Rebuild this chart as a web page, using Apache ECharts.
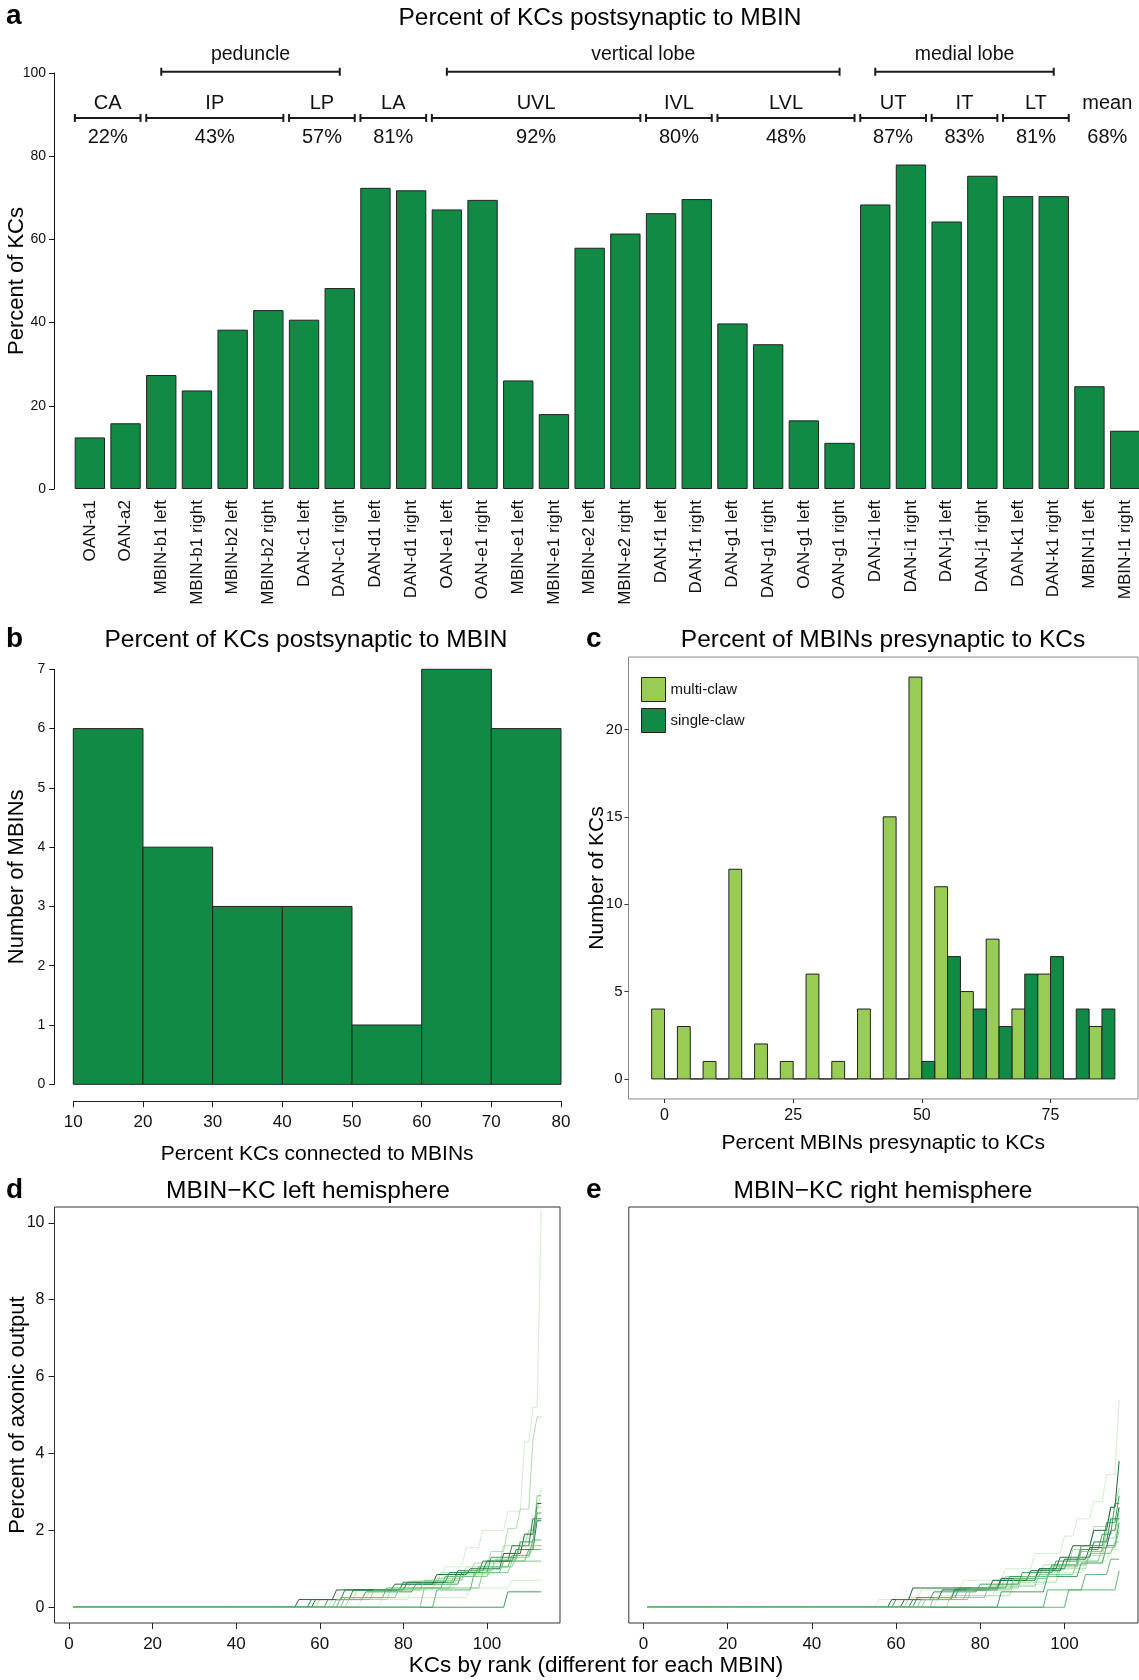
<!DOCTYPE html>
<html><head><meta charset="utf-8">
<script src="https://cdn.jsdelivr.net/npm/echarts@6/dist/echarts.min.js"></script>
<style>html,body{margin:0;padding:0;background:#fff;overflow:hidden}#c{width:1139px;height:1680px}</style>
</head><body><div id="c"></div>
<script>
const FONT = "'Liberation Sans', Arial, Helvetica, sans-serif";
const GREEN = '#118a45';
const LIGHT = '#99cc55';
const INK = '#111';

// ---------- panel a ----------
const mbinNames = ['OAN-a1','OAN-a2','MBIN-b1 left','MBIN-b1 right','MBIN-b2 left','MBIN-b2 right','DAN-c1 left','DAN-c1 right','DAN-d1 left','DAN-d1 right','OAN-e1 left','OAN-e1 right','MBIN-e1 left','MBIN-e1 right','MBIN-e2 left','MBIN-e2 right','DAN-f1 left','DAN-f1 right','DAN-g1 left','DAN-g1 right','OAN-g1 left','OAN-g1 right','DAN-i1 left','DAN-i1 right','DAN-j1 left','DAN-j1 right','DAN-k1 left','DAN-k1 right','MBIN-l1 left','MBIN-l1 right'];
const kcPercent = [12.4,15.8,27.4,23.7,38.3,43.0,40.7,48.3,72.4,71.8,67.2,69.5,26.1,18.0,58.0,61.4,66.3,69.7,39.8,34.8,16.5,11.1,68.4,78.0,64.3,75.3,70.4,70.4,24.7,14.0];
const regionNames = ['CA','IP','LP','LA','UVL','IVL','LVL','UT','IT','LT'];
const regionPct = ['22%','43%','57%','81%','92%','80%','48%','87%','83%','81%'];
const regionFirst = [0,2,6,8,10,16,18,22,24,26];
const regionLast = [1,5,7,9,15,17,21,23,25,27];
const lobeNames = ['peduncle','vertical lobe','medial lobe'];
const lobeFirst = [2,10,22];
const lobeLast = [7,21,27];
const meanText = ['mean','68%'];
const meanSpan = [28,29];

// ---------- panel b ----------
const histStart = [10,20,30,40,50,60,70];
const histEnd = [20,30,40,50,60,70,80];
const histCount = [6,4,3,3,1,7,6];

// ---------- panel c ----------
const clawBinCenter = [0,5,10,15,20,25,30,35,40,45,50,55,60,65,70,75,80,85];
const multiClaw = [4,3,1,12,2,1,6,1,4,15,23,11,5,8,4,6,0,3];
const singleClaw = [0,0,0,0,0,0,0,0,0,0,1,7,4,3,6,7,4,4];
const CLAW_HALF = 2.5;

// ---------- panels d / e : runs of [first rank, percent] ----------
const RANKS = 113;
const shadePalette = ['#0a5228','#137a3a','#2a9449','#4caf5f','#78c47f','#a6d9a2','#cdebc8'];
const leftRuns = [
  [[1,0],[63,0.2],[72,0.45],[82,0.7],[90,1.05],[95,1.55],[99,2.0],[105,2.5],[109,4.3],[111,5.2],[113,10.35]],
  [[1,0],[70,0.2],[82,0.5],[93,0.85],[102,1.2],[108,1.8],[111,2.4],[113,3.1]],
  [[1,0],[75,0.25],[96,0.5],[106,0.7]],
  [[1,0],[67,0.2],[77,0.45],[88,0.75],[95,1.05],[101,1.45],[105,2.05],[108,2.55],[111,4.35],[112,4.95]],
  [[1,0],[60,0.2],[69,0.45],[80,0.6],[89,0.9],[97,1.15],[104,1.6],[110,2.0],[112,2.6]],
  [[1,0],[55,0.2],[64,0.45],[78,0.6],[88,0.85],[96,1.0],[104,1.4],[109,1.9],[112,2.7]],
  [[1,0],[58,0.2],[66,0.45],[80,0.65],[91,0.9],[99,1.2],[106,1.6],[111,2.3]],
  [[1,0],[62,0.2],[71,0.4],[83,0.6],[94,0.9],[101,1.3],[108,1.7],[112,2.45]],
  [[1,0],[65,0.25],[76,0.5],[90,0.8],[98,1.05],[106,1.35],[111,1.75]],
  [[1,0],[88,0.45],[97,0.9],[104,1.2],[110,1.5]],
  [[1,0],[105,0.4]],
  [[1,0],[59,0.2],[68,0.45],[81,0.65],[93,0.95],[100,1.2],[107,1.5],[112,2.25]],
  [[1,0],[66,0.25],[79,0.5],[92,0.8],[101,1.05],[107,1.3],[111,1.6]],
  [[1,0],[85,0.5],[99,0.9],[106,1.2]],
  [[1,0],[64,0.2],[73,0.45],[85,0.7],[95,0.95],[102,1.25],[108,1.6],[112,2.9]]
];
const leftShade = [6,6,6,5,5,0,1,2,3,3,2,1,4,4,4];
const rightRuns = [
  [[1,0],[56,0.2],[66,0.45],[76,0.7],[86,1.0],[93,1.4],[100,1.85],[103,2.3],[107,2.75],[110,3.45],[113,5.4]],
  [[1,0],[70,0.3],[84,0.6],[96,0.9],[105,1.2],[111,1.5]],
  [[1,0],[63,0.25],[74,0.5],[86,0.8],[95,1.1],[102,1.5],[107,2.1],[111,2.6],[113,3.1]],
  [[1,0],[73,0.3],[88,0.65],[99,1.0],[106,1.35],[110,1.8],[113,2.35]],
  [[1,0],[59,0.2],[64,0.5],[85,0.75],[94,1.0],[99,1.3],[102,1.6],[107,2.0],[111,2.6],[113,3.8]],
  [[1,0],[62,0.2],[71,0.45],[83,0.7],[92,0.95],[100,1.25],[106,1.55],[111,2.0],[113,2.6]],
  [[1,0],[64,0.2],[74,0.45],[85,0.7],[94,1.0],[101,1.3],[107,1.7],[111,2.3]],
  [[1,0],[60,0.2],[69,0.4],[80,0.6],[90,0.9],[98,1.2],[104,1.6],[110,2.2],[113,2.9]],
  [[1,0],[85,0.4],[96,0.8],[104,1.15],[110,1.6],[113,2.2]],
  [[1,0],[65,0.25],[75,0.5],[87,0.8],[97,1.1],[104,1.5],[109,1.9],[112,2.7]],
  [[1,0],[101,0.45],[113,0.95]],
  [[1,0],[96,0.45],[105,0.85],[111,1.25]],
  [[1,0],[67,0.2],[77,0.45],[88,0.75],[97,1.05],[104,1.45],[110,2.0],[113,2.5]],
  [[1,0],[66,0.2],[78,0.5],[90,0.8],[99,1.1],[106,1.4],[112,1.7]],
  [[1,0],[69,0.25],[82,0.55],[94,0.85],[103,1.2],[109,1.55],[113,2.0]]
];
const rightShade = [6,6,5,5,0,0,1,2,2,2,3,3,4,4,4];

function expandRuns(runs) {
  const pts = [];
  let k = 0;
  for (let r = 1; r <= RANKS; r++) {
    while (k + 1 < runs.length && runs[k + 1][0] <= r) k++;
    pts.push([r, runs[k][1]]);
  }
  return pts;
}

// y positions (in panel-a axis units) of the annotation rows above the bars
const ROW_LOBE_TEXT = 104.5, ROW_LOBE_LINE = 100.3, ROW_REGION_TEXT = 92.6, ROW_REGION_LINE = 89.2, ROW_PCT = 84.6;

function bracket(x0, x1, y, lw) {
  const st = {stroke: '#1a1a1a', lineWidth: lw};
  return [
    {type: 'line', shape: {x1: x0, y1: y, x2: x1, y2: y}, style: st},
    {type: 'line', shape: {x1: x0, y1: y - 4, x2: x0, y2: y + 4}, style: st},
    {type: 'line', shape: {x1: x1, y1: y - 4, x2: x1, y2: y + 4}, style: st}
  ];
}
function txt(s, x, y, size) {
  return {type: 'text', x: x, y: y, style: {text: s, fontSize: size, fontFamily: FONT, fill: INK, align: 'center', verticalAlign: 'middle'}};
}

function renderRegion(params, api) {
  const i = api.value(3);
  const band = api.size([1, 0])[0];
  const a = api.coord([api.value(0), ROW_REGION_LINE]);
  const b = api.coord([api.value(2), ROW_REGION_LINE]);
  const x0 = a[0] - band * 0.42, x1 = b[0] + band * 0.42;
  const cx = (x0 + x1) / 2;
  const yt = api.coord([api.value(0), ROW_REGION_TEXT])[1];
  const yp = api.coord([api.value(0), ROW_PCT])[1];
  return {type: 'group', children: bracket(x0, x1, a[1], 2).concat([
    txt(regionNames[i], cx, yt, 20), txt(regionPct[i], cx, yp, 20)])};
}
function renderLobe(params, api) {
  const i = api.value(3);
  const a = api.coord([api.value(0), ROW_LOBE_LINE]);
  const b = api.coord([api.value(2), ROW_LOBE_LINE]);
  const yt = api.coord([api.value(0), ROW_LOBE_TEXT])[1];
  return {type: 'group', children: bracket(a[0], b[0], a[1], 2).concat([
    txt(lobeNames[i], (a[0] + b[0]) / 2, yt, 19.5)])};
}
function renderMean(params, api) {
  const a = api.coord([api.value(0), ROW_REGION_TEXT]);
  const b = api.coord([api.value(2), ROW_PCT]);
  const cx = (a[0] + b[0]) / 2;
  return {type: 'group', children: [txt(meanText[0], cx, a[1], 20), txt(meanText[1], cx, b[1], 20)]};
}
function renderHist(params, api) {
  const p0 = api.coord([api.value(0), api.value(2)]);
  const p1 = api.coord([api.value(1), 0]);
  return {type: 'rect', shape: {x: p0[0], y: p0[1], width: p1[0] - p0[0], height: p1[1] - p0[1]},
    style: {fill: GREEN, stroke: '#222', lineWidth: 1}};
}
function clawRenderer(side, color) {
  return function (params, api) {
    const c = api.value(0);
    const x0 = side < 0 ? c - CLAW_HALF : c;
    const p0 = api.coord([x0, api.value(1)]);
    const p1 = api.coord([x0 + CLAW_HALF, 0]);
    return {type: 'rect', shape: {x: p0[0], y: p0[1], width: p1[0] - p0[0], height: p1[1] - p0[1]},
      style: {fill: color, stroke: '#222', lineWidth: 1}};
  };
}

const axisTxt = (size) => ({fontSize: size, color: INK, fontFamily: FONT});
const nameTxt = (size) => ({fontSize: size, color: '#000', fontFamily: FONT});

const series = [
  {type: 'bar', xAxisIndex: 0, yAxisIndex: 0, data: kcPercent, barCategoryGap: '15%',
   itemStyle: {color: GREEN, borderColor: '#222', borderWidth: 1}, silent: true},
  {type: 'custom', xAxisIndex: 0, yAxisIndex: 0, clip: false, silent: true, renderItem: renderRegion,
   data: regionNames.map((n, i) => [regionFirst[i], 0, regionLast[i], i])},
  {type: 'custom', xAxisIndex: 0, yAxisIndex: 0, clip: false, silent: true, renderItem: renderLobe,
   data: lobeNames.map((n, i) => [lobeFirst[i], 0, lobeLast[i], i])},
  {type: 'custom', xAxisIndex: 0, yAxisIndex: 0, clip: false, silent: true, renderItem: renderMean,
   data: [[meanSpan[0], 0, meanSpan[1]]]},
  {type: 'custom', xAxisIndex: 1, yAxisIndex: 1, silent: true, renderItem: renderHist, encode: {x: [0, 1], y: 2},
   data: histCount.map((c, i) => [histStart[i], histEnd[i], c])},
  {name: 'multi-claw', type: 'custom', xAxisIndex: 2, yAxisIndex: 2, silent: true, renderItem: clawRenderer(-1, LIGHT),
   itemStyle: {color: LIGHT}, data: clawBinCenter.map((c, i) => [c, multiClaw[i]])},
  {name: 'single-claw', type: 'custom', xAxisIndex: 2, yAxisIndex: 2, silent: true, renderItem: clawRenderer(1, GREEN),
   itemStyle: {color: GREEN}, data: clawBinCenter.map((c, i) => [c, singleClaw[i]])}
];
leftRuns.forEach((runs, i) => series.push({type: 'line', xAxisIndex: 3, yAxisIndex: 3, data: expandRuns(runs),
  showSymbol: false, silent: true, lineStyle: {width: 1, color: shadePalette[leftShade[i]], opacity: 0.9}}));
rightRuns.forEach((runs, i) => series.push({type: 'line', xAxisIndex: 4, yAxisIndex: 4, data: expandRuns(runs),
  showSymbol: false, silent: true, lineStyle: {width: 1, color: shadePalette[rightShade[i]], opacity: 0.9}}));

const titleBase = (text, left, top, size, bold, align) => ({text, left, top, padding: 0, textAlign: align || 'left',
  textStyle: {fontSize: size, fontWeight: bold ? 'bold' : 'normal', color: '#000', fontFamily: FONT}});

const rankTicks = [0, 20, 40, 60, 80, 100];
const gridCommon = {outerBoundsMode: 'none', containLabel: false};
const option = {
  animation: false,
  backgroundColor: '#fff',
  textStyle: {fontFamily: FONT},
  title: [
    titleBase('a', 6, 2, 28, true),
    titleBase('Percent of KCs postsynaptic to MBIN', 600, 6, 24.5, false, 'center'),
    titleBase('b', 6, 625, 28, true),
    titleBase('Percent of KCs postsynaptic to MBIN', 306, 628, 24.5, false, 'center'),
    titleBase('c', 586, 625, 28, true),
    titleBase('Percent of MBINs presynaptic to KCs', 883, 628, 24.5, false, 'center'),
    titleBase('d', 6, 1176, 28, true),
    titleBase('MBIN\u2212KC left hemisphere', 308, 1179, 24.5, false, 'center'),
    titleBase('e', 586, 1176, 28, true),
    titleBase('MBIN\u2212KC right hemisphere', 883, 1179, 24.5, false, 'center'),
    titleBase('KCs by rank (different for each MBIN)', 596, 1654, 22.5, false, 'center')
  ],
  legend: {left: 641, top: 677, padding: 0, orient: 'vertical', itemWidth: 24, itemHeight: 24, itemGap: 6, icon: 'rect',
    textStyle: {fontSize: 15, color: INK, fontFamily: FONT},
    data: [{name: 'multi-claw', itemStyle: {color: LIGHT, borderColor: '#222', borderWidth: 1}},
           {name: 'single-claw', itemStyle: {color: GREEN, borderColor: '#222', borderWidth: 1}}]},
  grid: [
    Object.assign({left: 72, top: 73, width: 1071, height: 416}, gridCommon),
    Object.assign({left: 73.3, top: 669.3, width: 487.7, height: 415}, gridCommon),
    Object.assign({left: 628.5, top: 657, width: 509.5, height: 442, show: true, borderColor: '#8a8a8a', borderWidth: 1}, gridCommon),
    Object.assign({left: 54.5, top: 1207, width: 505.5, height: 416, show: true, borderColor: '#333', borderWidth: 1}, gridCommon),
    Object.assign({left: 628.8, top: 1207, width: 509.2, height: 416, show: true, borderColor: '#333', borderWidth: 1}, gridCommon)
  ],
  xAxis: [
    {type: 'category', gridIndex: 0, data: mbinNames, axisLine: {show: false}, axisTick: {show: false},
     axisLabel: Object.assign({rotate: 90, interval: 0, margin: 11, hideOverlap: false}, axisTxt(17))},
    {type: 'value', gridIndex: 1, min: 10, max: 80, interval: 10, offset: 17,
     axisLine: {show: true, onZero: false, lineStyle: {color: '#222'}}, axisTick: {show: true, length: 6, lineStyle: {color: '#222'}},
     axisLabel: Object.assign({margin: 13}, axisTxt(17)), splitLine: {show: false},
     name: 'Percent KCs connected to MBINs', nameLocation: 'middle', nameGap: 42, nameMoveOverlap: false, nameTextStyle: nameTxt(21)},
    {type: 'value', gridIndex: 2, min: -7, max: 92,
     axisLine: {show: false, onZero: false}, axisTick: {show: true, length: 4, customValues: [0, 25, 50, 75], lineStyle: {color: '#333'}},
     axisLabel: Object.assign({margin: 9, customValues: [0, 25, 50, 75]}, axisTxt(16)), splitLine: {show: false},
     name: 'Percent MBINs presynaptic to KCs', nameLocation: 'middle', nameGap: 34, nameMoveOverlap: false, nameTextStyle: nameTxt(21)},
    {type: 'value', gridIndex: 3, min: -3.48, max: 117.48,
     axisLine: {show: false, onZero: false}, axisTick: {show: true, length: 6, customValues: rankTicks, lineStyle: {color: '#222'}},
     axisLabel: Object.assign({margin: 13, customValues: rankTicks}, axisTxt(17)), splitLine: {show: false}},
    {type: 'value', gridIndex: 4, min: -3.48, max: 117.48,
     axisLine: {show: false, onZero: false}, axisTick: {show: true, length: 6, customValues: rankTicks, lineStyle: {color: '#222'}},
     axisLabel: Object.assign({margin: 13, customValues: rankTicks}, axisTxt(17)), splitLine: {show: false}}
  ],
  yAxis: [
    {type: 'value', gridIndex: 0, min: 0, max: 100, interval: 20, offset: 18,
     axisLine: {show: true, onZero: false, lineStyle: {color: '#111'}}, axisTick: {show: true, length: 5, lineStyle: {color: '#111'}},
     axisLabel: Object.assign({margin: 8}, axisTxt(14)), splitLine: {show: false},
     name: 'Percent of KCs', nameLocation: 'middle', nameGap: 26, nameRotate: 90, nameMoveOverlap: false, nameTextStyle: nameTxt(22)},
    {type: 'value', gridIndex: 1, min: 0, max: 7, interval: 1, offset: 19,
     axisLine: {show: true, onZero: false, lineStyle: {color: '#111'}}, axisTick: {show: true, length: 5, lineStyle: {color: '#111'}},
     axisLabel: Object.assign({margin: 9}, axisTxt(14)), splitLine: {show: false},
     name: 'Number of MBINs', nameLocation: 'middle', nameGap: 26, nameRotate: 90, nameMoveOverlap: false, nameTextStyle: nameTxt(22)},
    {type: 'value', gridIndex: 2, min: -1.15, max: 24.15,
     axisLine: {show: false, onZero: false}, axisTick: {show: true, length: 4, customValues: [0, 5, 10, 15, 20], lineStyle: {color: '#333'}},
     axisLabel: Object.assign({margin: 6, customValues: [0, 5, 10, 15, 20]}, axisTxt(15)), splitLine: {show: false},
     name: 'Number of KCs', nameLocation: 'middle', nameGap: 21, nameRotate: 90, nameMoveOverlap: false, nameTextStyle: nameTxt(21)},
    {type: 'value', gridIndex: 3, min: -0.41, max: 10.41,
     axisLine: {show: false, onZero: false}, axisTick: {show: true, length: 6, customValues: [0, 2, 4, 6, 8, 10], lineStyle: {color: '#222'}},
     axisLabel: Object.assign({margin: 10, customValues: [0, 2, 4, 6, 8, 10]}, axisTxt(16)), splitLine: {show: false},
     name: 'Percent of axonic output', nameLocation: 'middle', nameGap: 26, nameRotate: 90, nameMoveOverlap: false, nameTextStyle: nameTxt(22)},
    {type: 'value', gridIndex: 4, min: -0.41, max: 10.41,
     axisLine: {show: false, onZero: false}, axisTick: {show: false}, axisLabel: {show: false}, splitLine: {show: false}}
  ],
  series: series
};

const chart = echarts.init(document.getElementById('c'), null, {renderer: 'canvas'});
chart.setOption(option);
</script></body></html>
